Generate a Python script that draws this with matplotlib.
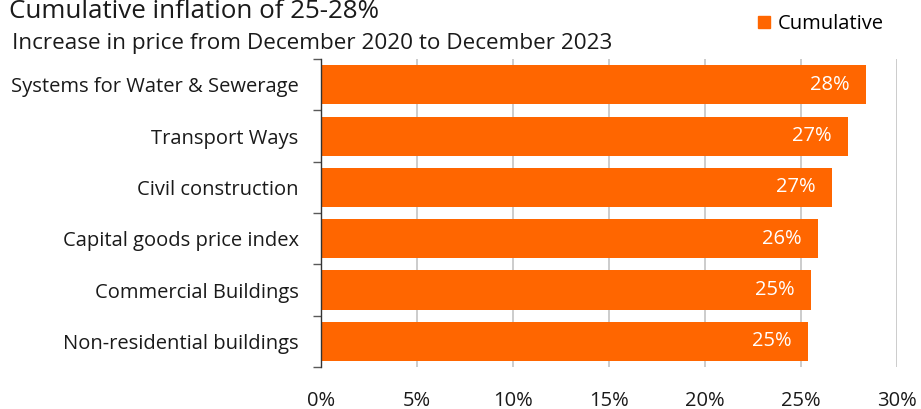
import matplotlib
matplotlib.use("Agg")
import matplotlib.pyplot as plt
from matplotlib.patches import Patch
import numpy as np

plt.rcParams['font.family'] = ['Open Sans', 'DejaVu Sans']

categories = ["Systems for Water & Sewerage", "Transport Ways", "Civil construction",
              "Capital goods price index", "Commercial Buildings",
              "Non-residential buildings"]
cumulative = [28.4, 27.42, 26.6, 25.9, 25.5, 25.35]
value_labels = ["28%", "27%", "27%", "26%", "25%", "25%"]
xticks = [0, 5, 10, 15, 20, 25, 30]
xtick_labels = ["0%", "5%", "10%", "15%", "20%", "25%", "30%"]

orange = "#FF6600"
ink = "#1a1a1a"
fs = 14.5

fig = plt.figure(figsize=(9.21, 4.09), dpi=100)
ax = fig.add_axes([0.3485, 0.1027, 0.6255, 0.753])

y = np.arange(len(categories))
ax.barh(y, cumulative, height=0.76, color=orange, zorder=2)
ax.set_ylim(len(categories) - 0.5, -0.5)
ax.set_xlim(0, 30)

for yi, v, lab in zip(y, cumulative, value_labels):
    ax.text(v - 0.85, yi, lab, color="white", fontsize=fs,
            ha="right", va="center", zorder=3)

ax.set_xticks(xticks)
ax.set_xticklabels(xtick_labels, fontsize=fs, color=ink)
ax.tick_params(axis="x", length=0, pad=17)
ax.xaxis.grid(True, color="#c8c8c8", linewidth=1.3, zorder=0)

# category ticks sit on the boundaries between bars
ax.set_yticks(np.arange(len(categories) + 1) - 0.5)
ax.set_yticklabels([])
ax.set_yticks(y, minor=True)
ax.set_yticklabels(categories, minor=True, fontsize=fs, color=ink)
ax.tick_params(axis="y", which="major", length=6, color="#595959", width=1)
ax.tick_params(axis="y", which="minor", length=0, pad=16)

for s in ["top", "right", "bottom"]:
    ax.spines[s].set_visible(False)
ax.spines["left"].set_color("#333333")
ax.spines["left"].set_linewidth(1)

fig.text(0.010, 0.956, "Cumulative inflation of 25-28%", fontsize=18.7,
         color=ink, va="baseline")
fig.text(0.013, 0.880, "Increase in price from December 2020 to December 2023",
         fontsize=16.2, color=ink, va="baseline")

fig.legend(handles=[Patch(color=orange, label="Cumulative")],
           loc="upper right", bbox_to_anchor=(0.975, 1.0), frameon=False,
           fontsize=fs, handlelength=0.6, handleheight=0.6, handletextpad=0.4,
           borderaxespad=0.3)

fig.savefig("out.png", dpi=100)
